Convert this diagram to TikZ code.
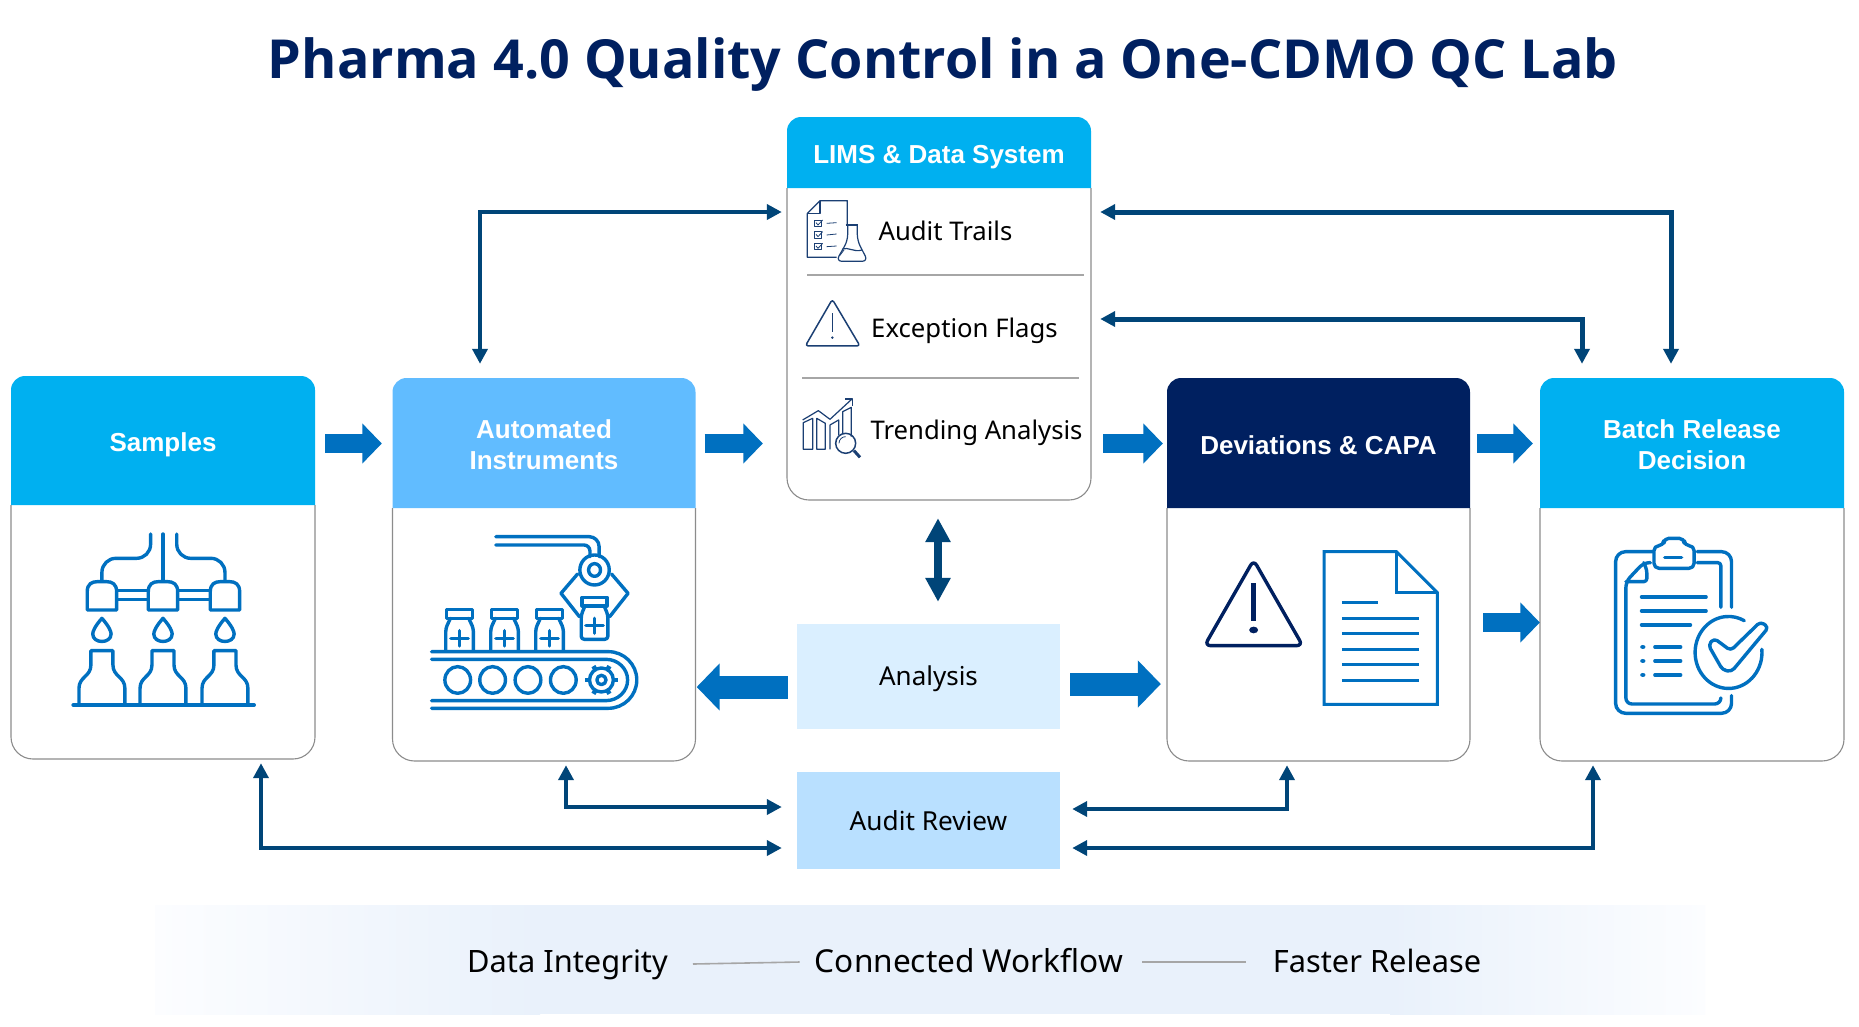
\documentclass[tikz,border=0pt]{standalone}
\usepackage{fontspec}
\setmainfont{Noto Sans}
\newfontfamily\hdrfont{Liberation Sans}
\newfontfamily\titlefont{Open Sans}
\usetikzlibrary{arrows.meta,calc}
\definecolor{cyanhead}{HTML}{00B0F0}
\definecolor{skyhead}{HTML}{61BCFF}
\definecolor{navy}{HTML}{002060}
\definecolor{blockblue}{HTML}{0070C0}
\definecolor{linkblue}{HTML}{004578}
\definecolor{anafill}{HTML}{DAEFFF}
\definecolor{revfill}{HTML}{B9E0FF}
\definecolor{bandblue}{HTML}{E9F1FB}
\definecolor{bandedge}{HTML}{FCFDFF}
\definecolor{cardgray}{HTML}{8C8C8C}
\definecolor{sepgray}{HTML}{A6A6A6}
\definecolor{iconthin}{HTML}{1B3F73}
\newcommand{\basetext}[2]{\raisebox{-#1pt}[0pt][0pt]{#2}}
\tikzset{
  hdrtext/.style={inner sep=0pt,text=white,align=center,font=\hdrfont\bfseries\fontsize{26}{31}\selectfont},
  bodytext/.style={inner sep=0pt,text=black,font=\fontsize{25.7}{31}\selectfont},
  foottext/.style={inner sep=0pt,text=black,font=\fontsize{30.8}{36}\selectfont},
  cardline/.style={draw=cardgray,line width=1.1pt},
  link/.style={draw=linkblue,line width=4.4pt,{Triangle[length=15pt,width=15pt]}-{Triangle[length=15pt,width=15pt]}},
  linkwide/.style={link,line width=5pt},
  blockarrow/.style={draw=blockblue,line width=19pt,-{Triangle[length=19.5pt,width=39pt]}},
  bigarrow/.style={draw=blockblue,line width=23pt,-{Triangle[length=23pt,width=46pt]}},
  vertarrow/.style={draw=linkblue,line width=8pt,{Triangle[length=24pt,width=24pt]}-{Triangle[length=24pt,width=24pt]}},
  iconline/.style={draw=blockblue,line width=3.4pt,line cap=round,line join=round},
  iconmid/.style={draw=blockblue,line width=3pt,line join=miter},
  icondark/.style={draw=navy,line width=3.4pt,line cap=round,line join=round},
  iconfine/.style={draw=iconthin,line width=1.2pt,line join=round},
  iconfiner/.style={draw=iconthin,line width=0.8pt,line join=round},
  sepline/.style={draw=sepgray,line width=1.4pt},
  footline/.style={draw=sepgray,line width=1.6pt},
}
\newcommand{\cardbox}[8]{%
  \node[inner sep=0pt,minimum width={(#4-#2)*1pt},minimum height={(#5-#3)*1pt}] (#1) at ({(#2+#4)/2},{(#3+#5)/2}) {};
  \draw[cardline] (#2,#6) [rounded corners=22pt] -- (#2,#5) -- (#4,#5) [sharp corners] -- (#4,#6);
  \fill[#7] (#2,#6) [rounded corners=14pt] -- (#2,#3) -- (#4,#3) [sharp corners] -- (#4,#6) -- cycle;
  \node[hdrtext,minimum width={(#4-#2)*1pt}] (#1head) at ({(#2+#4)/2},{(#3+#6)/2+2}) {#8};
}
\begin{document}
\begin{tikzpicture}[x=1pt,y=-1pt]
\useasboundingbox (0,0) rectangle (1859,1026);
\fill[white] (0,0) rectangle (1859,1026);

% title
\node[inner sep=0pt,text=navy,font=\titlefont\bfseries\fontsize{53.8}{62}\selectfont] (title) at (943,65) {Pharma 4.0 Quality Control in a One-CDMO QC Lab};

% footer band
\shade[left color=bandedge,right color=bandblue] (155,905) rectangle (540,1014);
\fill[bandblue] (540,905) rectangle (1390,1014);
\shade[left color=bandblue,right color=bandedge] (1390,905) rectangle (1705,1014);

% cards
\cardbox{samples}{11}{376}{315}{759}{505}{cyanhead}{\basetext{9}{Samples}}
\cardbox{auto}{392.5}{378}{695.5}{761}{508}{skyhead}{Automated\\Instruments}
\cardbox{lims}{787}{117}{1091}{500}{188}{cyanhead}{\basetext{8.5}{LIMS \& Data System}}
\cardbox{dev}{1167}{378}{1470}{761}{508}{navy}{Deviations \& CAPA}
\cardbox{batch}{1540}{378}{1844}{761}{508}{cyanhead}{Batch Release\\Decision}

% LIMS items
\node[bodytext] (trails) at (945.5,231) {Audit Trails};
\node[bodytext] (flags) at (964.5,330.5) {Exception Flags};
\node[bodytext] (trend) at (976.5,432.5) {Trending Analysis};
\draw[sepline] (807,275) -- (1084,275);
\draw[sepline] (802,378) -- (1079,378);

% analysis and review
\node[fill=anafill,inner sep=0pt,minimum width=263pt,minimum height=105pt,font=\fontsize{26}{31}\selectfont] (analysis) at (928.5,676.5) {\basetext{8.5}{Analysis}};
\node[fill=revfill,inner sep=0pt,minimum width=263pt,minimum height=97pt,font=\fontsize{26.2}{31}\selectfont] (review) at (928.5,820.5) {\basetext{9.5}{Audit Review}};

% footer text
\node[foottext] (fdata) at (567.5,962) {\basetext{10}{Data Integrity}};
\node[foottext,font=\fontsize{31.6}{36}\selectfont] (fwork) at (969,962) {\basetext{10}{Connected Workflow}};
\node[foottext] (frel) at (1377,962) {\basetext{10}{Faster Release}};
\draw[footline] ([xshift=25pt,yshift=-2pt]fdata.east) -- ([xshift=-15pt]fwork.west);
\draw[footline] ([xshift=19pt]fwork.east) -- ([xshift=-27pt]frel.west);

% block arrows
\coordinate (rowA) at ([yshift=-1pt]sampleshead.east);
\draw[blockarrow,shorten <=10pt,shorten >=10.5pt] (rowA) -- (auto.west |- rowA);
\draw[blockarrow,shorten <=9pt,shorten >=24pt] (auto.east |- rowA) -- (lims.west |- rowA);
\draw[blockarrow,shorten <=12pt,shorten >=4pt] (lims.east |- rowA) -- (dev.west |- rowA);
\draw[blockarrow,shorten <=7pt,shorten >=7pt] (dev.east |- rowA) -- (batch.west |- rowA);
\draw[blockarrow,shorten <=13pt] ([yshift=-53pt]dev.east) -- ([yshift=-53pt]batch.west);
\coordinate (anaL) at ([yshift=-10.5pt]analysis.west);
\coordinate (anaR) at ([yshift=-7.5pt]analysis.east);
\draw[bigarrow,shorten <=9pt,shorten >=1pt] (anaL) -- (auto.east |- anaL);
\draw[bigarrow,shorten <=10pt,shorten >=6pt] (anaR) -- (dev.west |- anaR);
\draw[vertarrow,shorten <=18pt,shorten >=22pt] ([xshift=-1pt]lims.south) -- ([xshift=-1pt]lims.south |- analysis.north);

% elbow connectors
\draw[link] ([xshift=-5pt,yshift=96.5pt]lims.west) -| ([xshift=-64pt,yshift=14pt]auto.north);
\draw[linkwide] ([xshift=9pt,yshift=96.5pt]lims.east) -| ([xshift=-21pt,yshift=14pt]batch.north);
\draw[linkwide] ([xshift=9pt,yshift=-10.5pt]lims.east) -| ([xshift=-110pt,yshift=14pt]batch.north);
\draw[link] ([xshift=-15pt,yshift=-27.5pt]review.west) -| ([xshift=98pt,yshift=-4pt]samples.south);
\draw[link] ([xshift=-15pt,yshift=13.5pt]review.west) -| ([xshift=22pt,yshift=-4pt]auto.south);
\draw[link] ([xshift=12pt,yshift=11.5pt]review.east) -| ([xshift=-31.5pt,yshift=-4pt]dev.south);
\draw[link] ([xshift=12pt,yshift=-27.5pt]review.east) -| ([xshift=-99pt,yshift=-4pt]batch.south);

% --- icon: samples ---
\begin{scope}[shift={(0,360)},x=0.4591pt,y=-0.3333pt]
  \draw[iconline] (355,522) -- (355,662);
  \draw[iconline,rounded corners=14pt] (328,522) -- (328,595) -- (222,595) -- (222,662);
  \draw[iconline,rounded corners=14pt] (385,522) -- (385,595) -- (490,595) -- (490,662);
  \foreach \c in {222,355,490}{
    \draw[iconline] (\c-32,750) -- (\c-32,695) .. controls (\c-32,672) and (\c-22,665) .. (\c-10,665) -- (\c+10,665) .. controls (\c+22,665) and (\c+32,672) .. (\c+32,695) -- (\c+32,750) -- cycle;
    \draw[iconline] (\c,775) .. controls (\c-16,800) and (\c-20,815) .. (\c-20,822) .. controls (\c-20,852) and (\c+20,852) .. (\c+20,822) .. controls (\c+20,815) and (\c+16,800) .. (\c,775) -- cycle;
    \draw[iconline] (\c-50,1035) -- (\c-50,985) .. controls (\c-50,950) and (\c-24,950) .. (\c-24,915) -- (\c-24,872) -- (\c+24,872) -- (\c+24,915) .. controls (\c+24,950) and (\c+50,950) .. (\c+50,985) -- (\c+50,1035);
  }
  \draw[iconline] (255,692) -- (322,692) (255,718) -- (322,718) (388,692) -- (457,692) (388,718) -- (457,718);
  \draw[iconline,line width=4.2pt] (160,1035) -- (553,1035);
\end{scope}

% --- icon: automated instruments ---
\begin{scope}[shift={(0,360)},x=0.4591pt,y=-0.3333pt]
  \draw[iconline,rounded corners=10pt] (1080,530) -- (1305,530) -- (1305,590);
  \draw[iconline,rounded corners=6pt] (1080,555) -- (1285,555) -- (1285,590);
  \draw[iconline] (1295,630) circle[x radius=32,y radius=45];
  \draw[iconline] (1295,630) circle[x radius=13,y radius=19];
  \draw[iconline] (1258,642) -- (1222,700) -- (1262,770);
  \draw[iconline] (1332,642) -- (1368,700) -- (1328,770);
  \draw[iconline] (1268,712) rectangle (1322,738);
  \draw[iconline,rounded corners=3pt] (1274,738) -- (1266,765) -- (1266,838) -- (1324,838) -- (1324,765) -- (1316,738);
  \draw[iconline] (1295,775) -- (1295,820) (1276,797) -- (1314,797);
  \foreach \c in {1001,1099,1197}{
    \draw[iconline] (\c-28,748) rectangle (\c+28,775);
    \draw[iconline,rounded corners=3pt] (\c-20,775) -- (\c-30,805) -- (\c-30,872);
    \draw[iconline,rounded corners=3pt] (\c+20,775) -- (\c+30,805) -- (\c+30,872);
    \draw[iconline] (\c,812) -- (\c,858) (\c-19,835) -- (\c+19,835);
  }
  \draw[iconline] (940,875) -- (1325,875) arc[start angle=-90,end angle=90,x radius=62,y radius=85] -- (940,1045);
  \draw[iconline] (940,898) -- (1320,898) arc[start angle=-90,end angle=90,x radius=47,y radius=62] -- (940,1022);
  \foreach \c in {997,1073,1150,1227}{
    \draw[iconline] (\c,960) circle[x radius=28,y radius=40];
  }
  \draw[iconline] (1310,960) circle[x radius=26,y radius=36];
  \draw[iconline] (1310,960) circle[x radius=10,y radius=14];
  \foreach \a in {0,60,...,300}{
    \draw[iconline,line width=4.5pt,line cap=butt] ({1310+26*cos(\a)},{960+36*sin(\a)}) -- ({1310+35*cos(\a)},{960+48*sin(\a)});
  }
\end{scope}

% --- icons: LIMS ---
\begin{scope}[shift={(780,100)},x=0.3333pt,y=-0.3333pt]
  \draw[iconfine] (170,472) -- (82,472) -- (82,340) -- (120,302) -- (202,302) -- (202,375);
  \draw[iconfine] (120,302) -- (120,340) -- (82,340);
  \foreach \yy/\e in {370/368,405/402,440/438}{
    \draw[iconfiner] (102,\yy-10) rectangle (124,\yy+9);
    \draw[iconfiner] (108,\yy-2) -- (114,\yy+5) -- (128,\yy-10);
    \draw[iconfiner] (140,\yy) -- (170,\e);
  }
  \draw[iconfine] (197,375) -- (235,375);
  \draw[iconfine,rounded corners=6pt] (203,375) -- (203,422) -- (168,484) -- (264,484) -- (232,422) -- (232,375);
  \draw[iconfine] (187,447) .. controls (205,440) and (222,458) .. (246,450);
  \draw[iconfiner] (180,466) -- (192,450);
  % warning triangle
  \draw[iconfine,line width=1.5pt,rounded corners=3pt] (157,598) -- (240,738) -- (76,738) -- cycle;
  \draw[iconfine,line width=1.5pt] (157,640) -- (157,695);
  \fill[iconthin] (157,713) circle (4);
  % trend
  \draw[iconfine] (70,1048) -- (70,968) -- (98,955) -- (98,1048) -- cycle;
  \draw[iconfine] (110,1048) -- (110,955) -- (136,970) -- (136,1048) -- cycle;
  \draw[iconfine] (150,1048) -- (150,975) -- (176,960) -- (176,1005);
  \draw[iconfine] (188,1000) -- (188,935) -- (214,922) -- (214,1010);
  \draw[iconfine] (68,960) -- (115,932) -- (150,958) -- (215,898);
  \draw[iconfine] (195,897) -- (217,897) -- (217,918);
  \draw[iconfine,line width=1.5pt] (197,1030) circle (30);
  \draw[iconfiner] (197,1010) arc[start angle=-90,end angle=-180,radius=20];
  \draw[iconfine,line width=3pt] (222,1052) -- (240,1072);
\end{scope}

% --- icon: deviations ---
\begin{scope}[shift={(1160,370)},x=0.4458pt,y=-0.3333pt]
  \draw[icondark,rounded corners=6pt] (210,570) -- (320,827) -- (100,827) -- cycle;
  \draw[icondark,line width=5pt,line cap=butt] (210,640) -- (210,752);
  \fill[navy] (210,780) circle[x radius=10,y radius=10];
  \draw[iconmid] (368,545) -- (530,545) -- (622,668) -- (622,1003) -- (368,1003) -- cycle;
  \draw[iconmid] (530,545) -- (530,668) -- (622,668);
  \draw[iconmid] (408,698) -- (490,698);
  \foreach \yy in {745,791,838,884,931}{
    \draw[iconmid] (408,\yy) -- (581,\yy);
  }
\end{scope}

% --- icon: batch release ---
\begin{scope}[shift={(1160,370)},x=0.4458pt,y=-0.3333pt]
  \draw[iconline,rounded corners=10pt] (1105,545) -- (1022,545) -- (1022,1030) -- (1282,1030) -- (1282,977);
  \draw[iconline,rounded corners=10pt] (1205,545) -- (1282,545) -- (1282,712);
  \draw[iconline,rounded corners=3pt] (1258,712) -- (1258,578) -- (1205,578);
  \draw[iconline,rounded corners=6pt] (1100,578) -- (1085,578) -- (1045,635) -- (1045,1002) -- (1258,1002) -- (1258,985);
  \draw[iconline,rounded corners=3pt] (1085,578) -- (1092,600) -- (1092,635) -- (1045,635);
  \draw[iconline,rounded corners=5pt] (1108,595) -- (1108,527) -- (1130,527) -- (1130,505) -- (1176,505) -- (1176,527) -- (1198,527) -- (1198,595) -- cycle;
  \draw[iconline] (1132,563) -- (1170,563);
  \draw[iconline] (1080,681) -- (1225,681) (1080,723) -- (1225,723) (1080,765) -- (1190,765);
  \foreach \yy in {831,873,915}{
    \fill[blockblue] (1083,\yy) circle[x radius=6,y radius=6];
    \draw[iconline] (1110,\yy) -- (1168,\yy);
  }
  \draw[iconline] (1350,838) arc[start angle=-5,end angle=298,x radius=75,y radius=108];
  \draw[iconline,rounded corners=4pt] (1230,825) -- (1243,805) -- (1280,842) -- (1347,755) -- (1365,772) -- (1282,905) -- (1262,900) -- cycle;
\end{scope}
\end{tikzpicture}
\end{document}
